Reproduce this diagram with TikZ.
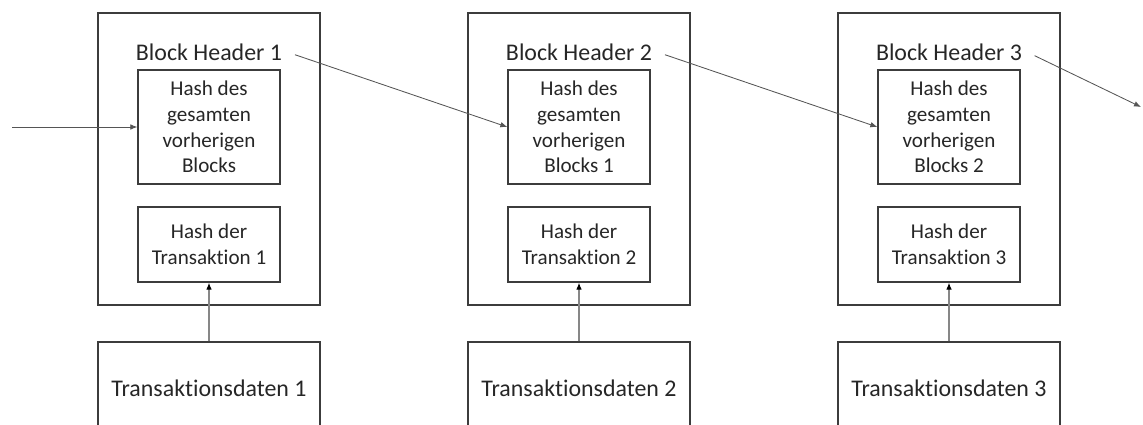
\documentclass[tikz,border=0pt]{standalone}
\usepackage{fontspec}
\setmainfont{Carlito}[Ligatures={NoCommon}]
\usetikzlibrary{arrows.meta}
\definecolor{boxgray}{RGB}{60,60,60}
\definecolor{arrgray}{RGB}{85,85,85}
\definecolor{txgray}{RGB}{135,135,135}
\definecolor{textdark}{RGB}{38,38,38}

\begin{document}
\begin{tikzpicture}[x=0.025cm, y=-0.025cm,
  blockbox/.style={draw=boxgray, line width=0.9pt, minimum width=5.55cm, minimum height=7.3cm},
  hashbox/.style={draw=boxgray, line width=0.9pt, minimum width=3.55cm, align=center,
    text=textdark, font=\fontsize{15}{18.3}\selectfont},
  header/.style={text=textdark, font=\fontsize{17}{20}\selectfont},
  databox/.style={draw=boxgray, line width=0.9pt, minimum width=5.55cm, minimum height=2.3cm,
    text=textdark, font=\fontsize{17}{20}\selectfont},
  link/.style={draw=arrgray, line width=0.6pt, -{Latex[length=5pt,width=4pt]}},
  txlink/.style={draw=txgray, line width=0.8pt, -{Latex[length=5pt,width=4pt,color=black]}}
]
\useasboundingbox (0,0) rectangle (1143,425);

% Blocks
\foreach \i/\lbl in {1/Blocks, 2/Blocks 1, 3/Blocks 2} {
    \pgfmathsetmacro{\x}{209 + (\i-1)*370}
    \node[blockbox] (blk\i) at (\x,159) {};
    \node[header] (hdr\i) at (\x,52) {Block Header \i};
    \node[hashbox, minimum height=2.85cm] (prev\i) at (\x,127)
        {Hash des\\gesamten\\vorherigen\\\lbl};
    \node[hashbox, minimum height=1.875cm] (txh\i) at (\x,244.5)
        {Hash der\\Transaktion \i};
    \node[databox] (txd\i) at (\x,388) {Transaktionsdaten \i};
    \draw[txlink] (txd\i.north) -- (txh\i.south);
}

% Chain of headers
\coordinate (in) at (12,127);
\coordinate (out) at (1141,107);
\draw[link] (in) -- (prev1.west);
\draw[link, shorten <=6pt] (hdr1.east) -- (prev2.west);
\draw[link, shorten <=6pt] (hdr2.east) -- (prev3.west);
\draw[link, shorten <=6pt] (hdr3.east) -- (out);
\end{tikzpicture}
\end{document}
